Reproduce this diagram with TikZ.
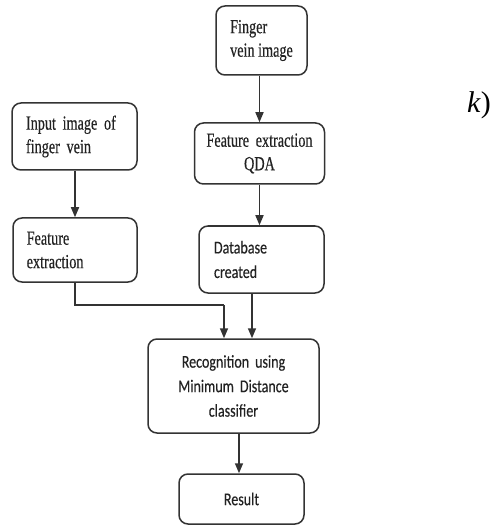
\documentclass[tikz,border=0pt]{standalone}
\usepackage{fontspec}
\usetikzlibrary{arrows.meta}
\newfontfamily\timesfont[FakeStretch=0.71,FakeBold=0.4]{Liberation Serif}
\newfontfamily\califont[FakeStretch=0.78,FakeBold=0.3]{Carlito}
\newfontfamily\kfont{Liberation Serif}
\definecolor{linec}{HTML}{333333}
\definecolor{txtc}{HTML}{222222}
\begin{document}
\begin{tikzpicture}[x=1pt,y=-1pt,
  box/.style={draw=linec, line width=1.5pt, rounded corners=9pt, text=txtc,
    inner ysep=0pt},
  tbox/.style={box, font=\timesfont\fontsize{20}{23.5}\selectfont},
  cbox/.style={box, font=\califont\fontsize{18}{24.5}\selectfont},
  arr/.style={draw=linec, line width=1.6pt, -{Triangle[length=10pt,width=8pt]}},
  ln/.style={draw=linec, line width=1.6pt}]
\useasboundingbox (0,0) rectangle (497,526);
% boxes
\node[tbox, minimum width=91pt, minimum height=69pt, inner xsep=8pt, align=left] (A) at (261.5,40.5) {Finger\\vein image};
\node[tbox, minimum width=130pt, minimum height=61pt, inner xsep=8pt, text width=114pt, align=center] (B) at (259.5,153.5) {Feature extraction\\QDA};
\node[tbox, minimum width=125pt, minimum height=67pt, inner xsep=14pt, text width=97pt, align=left] (C) at (74.5,136.5) {Input image of\\finger vein};
\node[tbox, minimum width=124pt, minimum height=64pt, inner xsep=13.7pt, text width=96.6pt, align=left] (D) at (75,250) {Feature\\extraction};
\node[cbox, minimum width=125pt, minimum height=67pt, inner xsep=15pt, text width=95pt, align=left] (E) at (261.5,259.5) {Database\\created};
\node[cbox, minimum width=171pt, minimum height=94pt, inner xsep=8pt, text width=155pt, align=center] (F) at (233.5,386) {Recognition using\\Minimum Distance\\classifier};
\node[cbox, minimum width=125pt, minimum height=50pt, inner xsep=8pt, text width=109pt, align=center] (G) at (241.5,499) {Result};
% label k)
\node[font=\kfont\fontsize{30}{36}\selectfont, text=black, anchor=base west, inner sep=0pt] (K) at (467,113) {\textit{k})};
% helper coordinates
\coordinate (j) at (224,305);
\coordinate (e1) at (252,0);
\coordinate (f1) at (239,0);
% connectors
\draw[arr] (A.south -| B) -- (B.north);
\draw[arr] (C.south -| D) -- (D.north);
\draw[arr] (B.south) -- (B.south |- E.north);
\draw[ln] (D.south) |- (j);
\draw[arr] (j) -- (j |- F.north);
\draw[arr] (E.south -| e1) -- (F.north -| e1);
\draw[arr] (F.south -| f1) -- (G.north -| f1);
\end{tikzpicture}
\end{document}
